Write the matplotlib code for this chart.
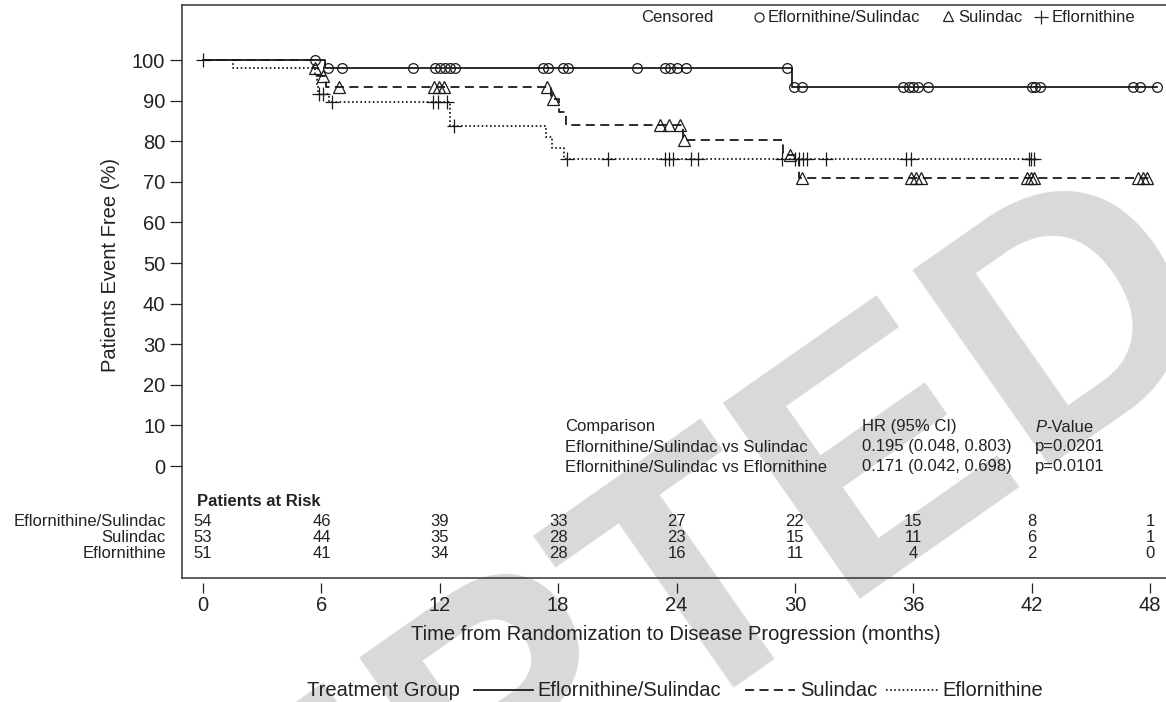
import numpy as np
import matplotlib
matplotlib.use('Agg')
import matplotlib.pyplot as plt
from matplotlib.lines import Line2D

plt.rcParams['font.family'] = ['Liberation Sans', 'DejaVu Sans']

W, H = 1166, 702

def px(x, y):
    # pixel position (from top-left) -> figure fraction
    return x / W, 1 - y / H

groups = ['Eflornithine/Sulindac', 'Sulindac', 'Eflornithine']

# Kaplan-Meier steps: time (months) and % event free after each step
es_times = [0, 6.2, 29.85, 48.35]
es_surv = [100, 98.1, 93.4, 93.4]
es_cens = [5.7, 6.35, 7.05, 10.65, 11.75, 12.0, 12.25, 12.5, 12.75, 17.25, 17.5,
           18.25, 18.5, 22.0, 23.4, 23.65, 24.0, 24.5, 29.6, 29.95, 30.35,
           35.5, 35.8, 36.0, 36.25, 36.75, 42.0, 42.15, 42.4, 47.15, 47.5, 48.35]

s_times = [0, 5.6, 5.85, 6.25, 17.65, 18.05, 18.4, 24.35, 29.4, 30.2, 48.0]
s_surv = [100, 98.1, 96.0, 93.4, 90.3, 87.1, 84.0, 80.3, 76.6, 70.9, 70.9]
s_cens = [5.7, 6.1, 6.9, 11.7, 11.95, 12.2, 17.45, 17.75, 23.15, 23.6, 24.2,
          24.4, 29.75, 30.35, 35.9, 36.15, 36.4, 41.75, 41.95, 42.1,
          47.4, 47.65, 47.85]

e_times = [0, 1.5, 5.7, 5.8, 5.85, 6.4, 12.5, 17.4, 17.7, 18.3, 42.25]
e_surv = [100, 98.0, 96.0, 93.9, 91.7, 89.6, 83.8, 81.0, 78.3, 75.6, 75.6]
e_cens = [0.0, 5.9, 6.1, 6.55, 11.65, 11.9, 12.35, 12.7, 18.45, 20.55, 23.4,
          23.6, 23.8, 24.75, 25.1, 29.35, 30.0, 30.2, 30.4, 30.6, 31.6,
          35.65, 35.9, 41.85, 41.95, 42.1]

# patients at risk
risk_months = [0, 6, 12, 18, 24, 30, 36, 42, 48]
risk_es = [54, 46, 39, 33, 27, 22, 15, 8, 1]
risk_s = [53, 44, 35, 28, 23, 15, 11, 6, 1]
risk_e = [51, 41, 34, 28, 16, 11, 4, 2, 0]

comparisons = ['Eflornithine/Sulindac vs Sulindac', 'Eflornithine/Sulindac vs Eflornithine']
hr_text = ['0.195 (0.048, 0.803)', '0.171 (0.042, 0.698)']
p_text = ['p=0.0201', 'p=0.0101']


def surv_at(times, surv, t):
    idx = np.searchsorted(times, t, side='right') - 1
    return np.asarray(surv)[idx]


fig = plt.figure(figsize=(W / 100, H / 100), dpi=100)

# watermark behind everything
fig.text(*px(1235, 330), 'ACCEPTED', rotation=35, rotation_mode='anchor',
         ha='right', va='baseline', fontsize=250, fontweight='bold',
         color='#d9d9d9', zorder=-5)

l, b = px(182, 578)
r, t = px(1170, 5)
ax = fig.add_axes([l, b, r - l, t - b])
ax.set_facecolor('none')

x0 = -(203 - 182) / 19.73
x1 = (1170 - 203) / 19.73
ax.set_xlim(x0, x1)
ax.set_ylim((466 - 578) / 4.06, (466 - 5) / 4.06)

styles = [dict(ls='-', lw=1.3),
          dict(ls=(0, (5, 3)), lw=1.3),
          dict(ls=(0, (0.9, 1.4)), lw=1.3)]
markers = [dict(marker='o', ms=7), dict(marker='^', ms=8), dict(marker='+', ms=10)]
curves = [(es_times, es_surv, es_cens), (s_times, s_surv, s_cens), (e_times, e_surv, e_cens)]

for (tt, ss, cc), st, mk in zip(curves, styles, markers):
    ax.step(tt, ss, where='post', color='#1a1a1a', **st)
    ax.plot(cc, surv_at(tt, ss, cc), ls='none', color='#1a1a1a', mfc='none',
            mew=0.9, **mk)

ax.set_yticks(range(0, 101, 10))
ax.tick_params(axis='y', length=8.5, width=0.9, pad=3.5, labelsize=14.5, colors='#222222')
ax.set_xticks([])
for sp in ax.spines.values():
    sp.set_linewidth(1.1)
    sp.set_color('#333333')

# separate x tick axis below the box
tl, tb = px(182, 583)
ax_t = fig.add_axes([tl, tb, r - l, 0.0005])
ax_t.set_facecolor('none')
ax_t.set_xlim(x0, x1)
ax_t.set_xticks(risk_months)
ax_t.set_yticks([])
for sp in ax_t.spines.values():
    sp.set_visible(False)
ax_t.tick_params(axis='x', length=7, width=0.9, pad=2.5, labelsize=14.5, colors='#222222')

fig.text(*px(676, 635), 'Time from Randomization to Disease Progression (months)',
         ha='center', va='center', fontsize=14.5, color='#222222')
fig.text(*px(110, 265), 'Patients Event Free (%)', rotation=90,
         ha='center', va='center', fontsize=14.5, color='#222222')

# top legend (censored symbols)
def ycoord(py):
    return (466 - py) / 4.06

def xcoord(pxl):
    return (pxl - 203) / 19.73

ax.text(xcoord(641), ycoord(17), 'Censored', fontsize=12, va='center', ha='left', color='#222222')
ax.plot([xcoord(759)], [ycoord(17)], marker='o', ms=6.5, mfc='none', mec='#222222', mew=0.9, clip_on=False)
ax.text(xcoord(768), ycoord(17), groups[0], fontsize=12, va='center', ha='left', color='#222222')
ax.plot([xcoord(948)], [ycoord(16)], marker='^', ms=7, mfc='none', mec='#222222', mew=0.9, clip_on=False)
ax.text(xcoord(958), ycoord(17), groups[1], fontsize=12, va='center', ha='left', color='#222222')
ax.plot([xcoord(1041)], [ycoord(17)], marker='+', ms=10, mec='#222222', mew=0.9, clip_on=False)
ax.text(xcoord(1052), ycoord(17), groups[2], fontsize=12, va='center', ha='left', color='#222222')

# hazard ratio table
pcol = 1035
ax.text(xcoord(565), ycoord(427), 'Comparison', fontsize=12, va='center', color='#222222')
ax.text(xcoord(862), ycoord(427), 'HR (95% CI)', fontsize=12, va='center', color='#222222')
tp = ax.text(xcoord(pcol), ycoord(427), 'P', fontsize=12, va='center', style='italic', color='#222222')
ax.annotate('-Value', xy=(1, 0), xycoords=tp, va='bottom', ha='left', fontsize=12, color='#222222')
for i, (c, h, p) in enumerate(zip(comparisons, hr_text, p_text)):
    yy = ycoord(447 + 20 * i)
    ax.text(xcoord(565), yy, c, fontsize=12, va='center', color='#222222')
    ax.text(xcoord(862), yy, h, fontsize=12, va='center', color='#222222')
    ax.text(xcoord(pcol), yy, p, fontsize=12, va='center', color='#222222')

# patients at risk table
ax.text(xcoord(197), ycoord(502), 'Patients at Risk', fontsize=12, fontweight='bold',
        va='center', color='#222222')
for i, (name, row) in enumerate(zip(groups, [risk_es, risk_s, risk_e])):
    yy = ycoord(521 + 16 * i)
    ax.text(xcoord(166), yy, name, fontsize=12, ha='right', va='center', color='#222222', clip_on=False)
    for m, n in zip(risk_months, row):
        ax.text(m, yy, str(n), fontsize=12, ha='center', va='center', color='#222222')

# bottom legend
fy = 690
fig.text(*px(307, fy), 'Treatment Group', fontsize=14.5, va='center', ha='left', color='#222222')
labels_x = [(474, 533, 537), (745, 795, 800), (886, 940, 942)]
for (a, bb, tx), st, name in zip(labels_x, styles, groups):
    xa, ya = px(a, fy)
    xb, _ = px(bb, fy)
    fig.add_artist(Line2D([xa, xb], [ya, ya], color='#1a1a1a', transform=fig.transFigure, **st))
    fig.text(*px(tx, fy), name, fontsize=14.5, va='center', ha='left', color='#222222')

fig.savefig('out.png', dpi=100)
